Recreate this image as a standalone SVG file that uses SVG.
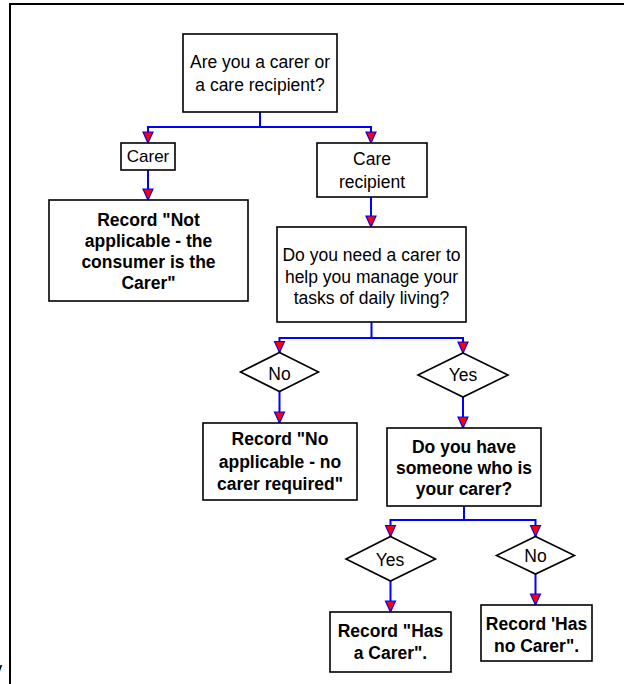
<svg xmlns="http://www.w3.org/2000/svg" width="624" height="684" viewBox="0 0 624 684">
<style>
.box{fill:#fff;stroke:#000;stroke-width:1.6}
.t{font-family:"Liberation Sans",Arial,sans-serif;font-size:17.5px;fill:#000;text-anchor:middle}
.b{font-weight:bold}
.c{fill:none;stroke:#0000ff;stroke-width:2;marker-end:url(#arr)}
.cn{fill:none;stroke:#0000ff;stroke-width:2}
</style>
<defs>
<marker id="arr" markerUnits="userSpaceOnUse" markerWidth="14" markerHeight="14" viewBox="-1 -7 14 14" refX="11" refY="0" orient="auto">
<path d="M0,-5 L11,0 L0,5 Z" fill="#ff0000" stroke="#0000ff" stroke-width="1.2" stroke-linejoin="miter"/>
</marker>
</defs>
<rect x="0" y="0" width="624" height="684" fill="#fff"/>
<rect x="10" y="4" width="700" height="760" fill="none" stroke="#000" stroke-width="2"/>
<text x="-5" y="672" font-family="'Liberation Sans',Arial,sans-serif" font-size="13" font-weight="bold">y</text>

<g id="connectors">
<path class="c" d="M260,112 V127 H148 V143"/>
<path class="c" d="M260,127 H371 V143"/>
<path class="c" d="M148,170 V200"/>
<path class="c" d="M371,197 V227"/>
<path class="c" d="M371.5,322 V338 H279.5 V352.5"/>
<path class="c" d="M371.5,338 H463 V353"/>
<path class="c" d="M279.5,392 V423"/>
<path class="c" d="M463,397 V428"/>
<path class="c" d="M464,506 V520 H390.5 V536.5"/>
<path class="c" d="M464,520 H535.5 V536.5"/>
<path class="c" d="M390.5,581 V612"/>
<path class="c" d="M535.5,574 V605"/>
</g>

<g id="q1">
<rect class="box" x="183" y="34" width="154" height="78"/>
<text class="t" x="260" y="68">Are you a carer or</text>
<text class="t" x="260" y="90.5">a care recipient?</text>
</g>
<g id="carer">
<rect class="box" x="121" y="143" width="54" height="27"/>
<text class="t" x="148" y="162" style="font-size:17px">Carer</text>
</g>
<g id="recipient">
<rect class="box" x="317" y="143" width="110" height="54"/>
<text class="t" x="372" y="165">Care</text>
<text class="t" x="372" y="187.5">recipient</text>
</g>
<g id="notapplicable">
<rect class="box" x="49" y="200" width="199" height="101"/>
<text class="t b" x="148.5" y="226">Record "Not</text>
<text class="t b" x="148.5" y="247">applicable - the</text>
<text class="t b" x="148.5" y="268">consumer is the</text>
<text class="t b" x="148.5" y="289">Carer"</text>
</g>
<g id="q2">
<rect class="box" x="277" y="227" width="189" height="95"/>
<text class="t" x="371.5" y="261">Do you need a carer to</text>
<text class="t" x="371.5" y="282.5">help you manage your</text>
<text class="t" x="371.5" y="304">tasks of daily living?</text>
</g>
<g id="no1">
<polygon class="box" points="279.5,352.5 318.5,372 279.5,391.5 240.5,372"/>
<text class="t" x="279.5" y="380">No</text>
</g>
<g id="yes1">
<polygon class="box" points="463,353 508,375 463,397 418,375"/>
<text class="t" x="463" y="380.5">Yes</text>
</g>
<g id="nocarerrequired">
<rect class="box" x="203" y="423" width="154" height="77"/>
<text class="t b" x="280" y="445">Record "No</text>
<text class="t b" x="280" y="467.5">applicable - no</text>
<text class="t b" x="280" y="490">carer required"</text>
</g>
<g id="q3">
<rect class="box" x="387" y="428" width="154" height="78"/>
<text class="t b" x="464" y="452.5">Do you have</text>
<text class="t b" x="464" y="473.5">someone who is</text>
<text class="t b" x="464" y="494.5">your carer?</text>
</g>
<g id="yes2">
<polygon class="box" points="390.5,536.5 435.5,559 390.5,581 346,559"/>
<text class="t" x="390" y="565.5">Yes</text>
</g>
<g id="no2">
<polygon class="box" points="535.5,536.5 574.5,555.5 535.5,574 496.5,555.5"/>
<text class="t" x="535.5" y="562">No</text>
</g>
<g id="hascarer">
<rect class="box" x="330" y="612" width="121" height="60"/>
<text class="t b" x="390.5" y="637">Record "Has</text>
<text class="t b" x="390.5" y="659">a Carer".</text>
</g>
<g id="hasnocarer">
<rect class="box" x="481" y="605" width="111" height="56"/>
<text class="t b" x="536.5" y="629.5">Record 'Has</text>
<text class="t b" x="536.5" y="651.5">no Carer".</text>
</g>
</svg>
